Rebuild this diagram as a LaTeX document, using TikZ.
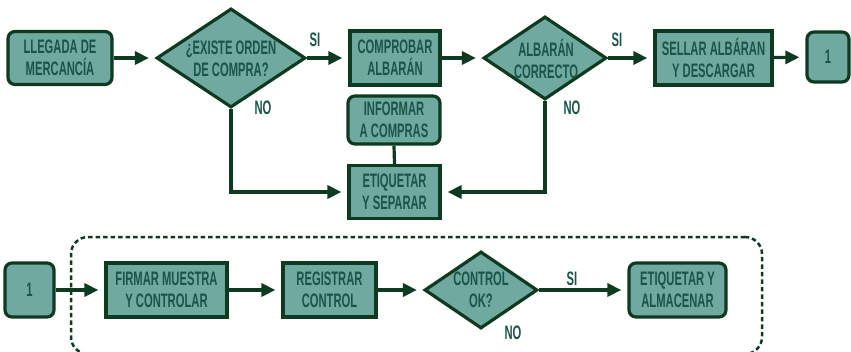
\documentclass[tikz,border=0pt]{standalone}
\usepackage{fontspec}
\setmainfont{Liberation Sans}[FakeStretch=0.575]
\usetikzlibrary{shapes.geometric,arrows.meta}
\definecolor{boxfill}{HTML}{6FA99F}
\definecolor{edgec}{HTML}{0E3A22}
\definecolor{txtc}{HTML}{1A5548}
\begin{document}
\begin{tikzpicture}[x=1pt,y=-1pt,
  base/.style={draw=edgec, fill=boxfill, line width=3.2pt, text=txtc,
    font=\fontsize{19.5}{21.7}\selectfont\bfseries, align=center, inner sep=0pt},
  sqbox/.style={base, rectangle},
  rbox/.style={base, rectangle, rounded corners=7pt},
  dec/.style={base, diamond},
  lab/.style={text=txtc, font=\fontsize{19.5}{21.7}\selectfont\bfseries, align=center, inner sep=0pt},
  conn/.style={draw=edgec, line width=3.2pt, -{Triangle[length=14pt,width=13pt]}, shorten >=6pt},
  plainc/.style={draw=edgec, line width=3.2pt},
  grpbox/.style={draw=edgec, line width=2.5pt, dash pattern=on 4.5pt off 3pt, rounded corners=17pt}
]
\useasboundingbox (0,0) rectangle (851,351);
\clip (0,0) rectangle (851,351);

% group box
\node[grpbox, minimum width=691pt, minimum height=117pt, inner sep=0pt] (grp) at (416.5,295.5) {};

% top row
\node[rbox, minimum width=104pt, minimum height=53pt] (n1) at (60,58) {LLEGADA DE\\MERCANCÍA};
\node[dec, minimum width=149pt, minimum height=99pt] (d1) at (231,58) {};
\node[lab] (d1t) at (231,59) {¿EXISTE ORDEN\\DE COMPRA?};
\node[sqbox, minimum width=90pt, minimum height=54pt] (n2) at (395,58) {COMPROBAR\\ALBARÁN};
\node[rbox, minimum width=92pt, minimum height=48pt] (n3) at (394,120) {INFORMAR\\A COMPRAS};
\node[sqbox, minimum width=91pt, minimum height=53pt] (n4) at (394.5,192) {ETIQUETAR\\Y SEPARAR};
\node[dec, minimum width=123pt, minimum height=83pt] (d2) at (545,58) {};
\node[lab] (d2t) at (546,59) {ALBARÁN\\CORRECTO};
\node[sqbox, minimum width=117pt, minimum height=54pt] (n5) at (713.5,58) {SELLAR ALBÁRAN\\Y DESCARGAR};
\node[rbox, minimum width=42pt, minimum height=50pt] (n6) at (828,57) {1};

% labels top
\node[lab] (si1) at (315,40) {SI};
\node[lab] (no1) at (263,108) {NO};
\node[lab] (si2) at (617,40) {SI};
\node[lab] (no2) at (572,108) {NO};

% bottom row
\node[rbox, minimum width=49pt, minimum height=54pt] (n7) at (29.5,290) {1};
\node[sqbox, minimum width=121pt, minimum height=54pt] (n8) at (166.5,290) {FIRMAR MUESTRA\\Y CONTROLAR};
\node[sqbox, minimum width=93pt, minimum height=54pt] (n9) at (329.5,290) {REGISTRAR\\CONTROL};
\node[dec, minimum width=113pt, minimum height=77pt] (d3) at (481,290) {};
\node[lab] (d3t) at (481,290) {CONTROL\\OK?};
\node[rbox, minimum width=97pt, minimum height=54pt] (n10) at (677.5,290) {ETIQUETAR Y\\ALMACENAR};
\node[lab] (si3) at (572,279) {SI};
\node[lab] (no3) at (513,333) {NO};

% connectors top
\draw[conn] (n1) -- (d1);
\draw[conn] (d1) -- (n2);
\draw[conn] (n2) -- (d2);
\draw[conn] (d2) -- (n5);
\draw[conn] (n5) -- (n6);
\draw[conn] (d1.south) |- (n4.west);
\draw[conn] (d2.south) |- (n4.east);
\draw[plainc] (n3.south) -- (n4.north);

% connectors bottom
\draw[conn] (n7) -- (n8);
\draw[conn] (n8) -- (n9);
\draw[conn] (n9) -- (d3);
\draw[conn] (d3) -- (n10);
\end{tikzpicture}
\end{document}
